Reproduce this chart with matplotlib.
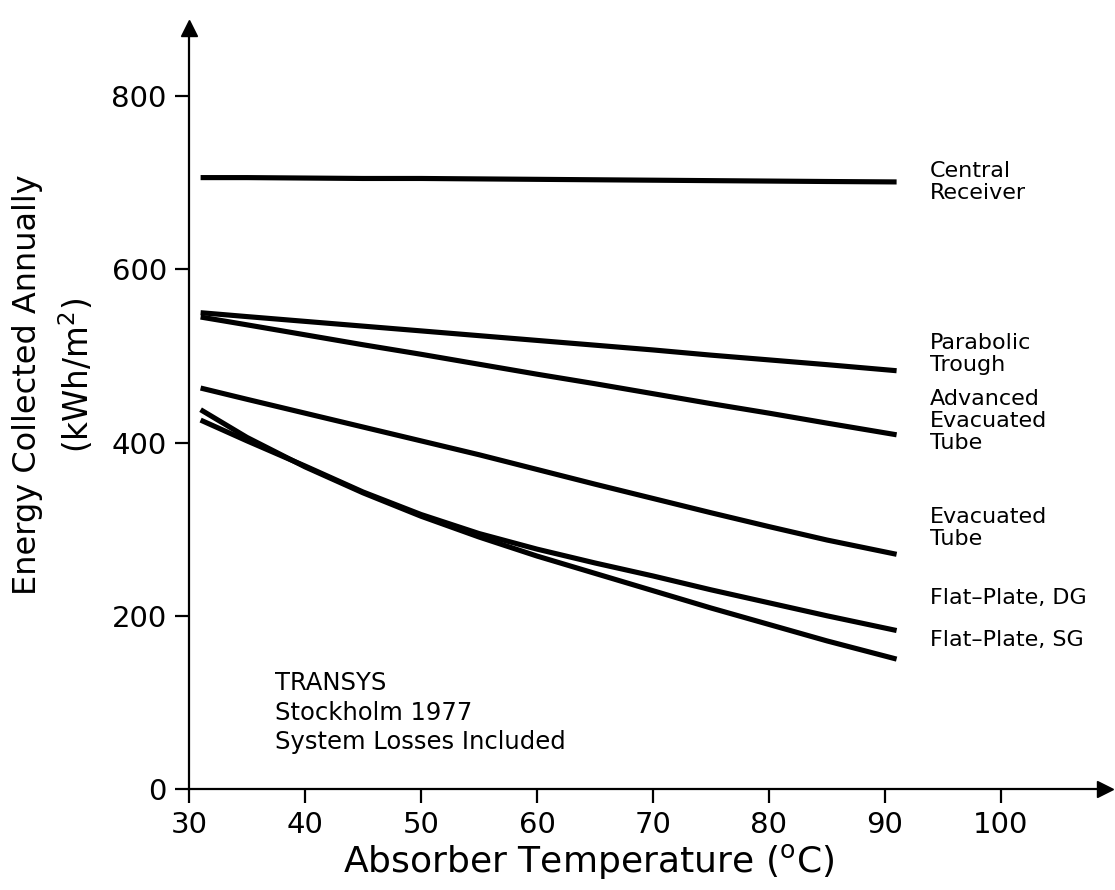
import matplotlib
matplotlib.use("Agg")
import matplotlib.pyplot as plt

plt.rcParams['font.family'] = ['DejaVu Sans']

# Absorber temperature (deg C) at which each curve is sampled
temperature = [31, 35, 40, 45, 50, 55, 60, 65, 70, 75, 80, 85, 91]

# Annual collected energy (kWh/m2)
central_receiver = [706, 706, 705.5, 705, 705, 704.5, 704, 703.5, 703, 702.5, 702, 701.5, 701]
parabolic_trough = [550, 545.5, 540, 534.5, 529, 523.5, 518, 512.5, 507, 501, 495.5, 490, 483]
advanced_evacuated_tube = [545, 536, 524.5, 513, 502, 490.5, 479, 468, 456.5, 445, 434, 422.5, 409]
evacuated_tube = [463, 450, 434, 418, 402, 386, 369, 352, 335.5, 319, 303, 287.5, 271]
flat_plate_dg = [426, 402, 373, 343, 317, 295, 277, 261, 246, 230, 215, 200, 183]
flat_plate_sg = [438, 406, 372, 342, 315, 291, 269, 249, 229, 209, 190, 171, 150]

series = [central_receiver, parabolic_trough, advanced_evacuated_tube,
          evacuated_tube, flat_plate_dg, flat_plate_sg]
series_labels = ["Central\nReceiver", "Parabolic\nTrough", "Advanced\nEvacuated\nTube",
                 "Evacuated\nTube", "Flat\u2013Plate, DG", "Flat\u2013Plate, SG"]
label_y = [701, 502, 425, 301, 220, 172]

x_ticks = [30, 40, 50, 60, 70, 80, 90, 100]
y_ticks = [0, 200, 400, 600, 800]

fig = plt.figure(figsize=(11.15, 8.9), dpi=100)
ax = fig.add_axes([189 / 1115, 101 / 890, (1105 - 189) / 1115, (789 - 28) / 890])

for values in series:
    ax.plot(temperature, values, color='black', lw=3.7, solid_capstyle='butt',
            solid_joinstyle='round')

ax.set_xlim(30, 30 + (1105 - 189) / 11.6)
ax.set_ylim(0, (789 - 28) / 0.866)

ax.spines['top'].set_visible(False)
ax.spines['right'].set_visible(False)
for side in ('left', 'bottom'):
    ax.spines[side].set_linewidth(1.6)

ax.set_xticks(x_ticks)
ax.set_yticks(y_ticks)
ax.tick_params(axis='both', direction='out', length=10, width=1.6,
               labelsize=21, pad=6)

# arrowheads at the ends of both axes
ax.plot([1], [0], marker='>', color='black', markersize=11,
        transform=ax.transAxes, clip_on=False)
ax.plot([0], [1], marker='^', color='black', markersize=11,
        transform=ax.transAxes, clip_on=False)

ax.set_xlabel(r"Absorber Temperature ($^{\mathrm{o}}$C)", fontsize=26)
ax.xaxis.set_label_coords((589 - 189) / 916, (789 - 842) / 761)

fig.text(28 / 1115, 1 - 385 / 890, "Energy Collected Annually", rotation=90,
         fontsize=23, ha='center', va='center')
fig.text(77 / 1115, 1 - 375 / 890, r"(kWh/m$^{2}$)", rotation=90,
         fontsize=23.5, ha='center', va='center')

for text, y in zip(series_labels, label_y):
    ax.text(93.9, y, text, fontsize=16, ha='left', va='center',
            linespacing=1.12)

ax.text(37.4, 136, "TRANSYS\nStockholm 1977\nSystem Losses Included",
        fontsize=17.5, ha='left', va='top', linespacing=1.28)

fig.savefig("out.png", dpi=100)
